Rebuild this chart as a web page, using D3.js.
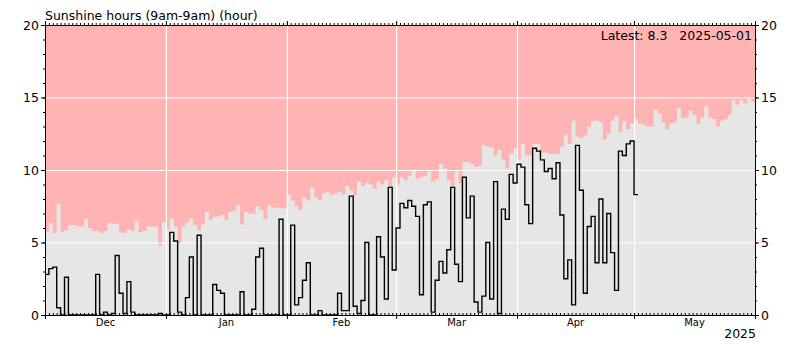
<!DOCTYPE html>
<html>
<head>
<meta charset="utf-8">
<script src="https://cdn.jsdelivr.net/npm/d3@7"></script>
<style>
body { margin: 0; background: #fff; }
text { font-family: "DejaVu Sans", sans-serif; }
</style>
</head>
<body>
<div id="chart"></div>
<script>
// Daily sunshine hours, one value per day from 2024-12-01
const startDate = '2024-12-01';
const endDate = '2025-06-01';
const yTicks = [0, 5, 10, 15, 20];
const titleText = 'Sunshine hours (9am-9am) (hour)';
const latestText = 'Latest: 8.3   2025-05-01';
const yearText = '2025';

const sunshine = [
    2.8, 3.2, 3.3, 0.5, 0, 2.6, 0, 0, 0, 0,
    0, 0, 0, 2.8, 0, 0.2, 0, 0.1, 4.1, 1.5,
    0.1, 2.3, 0.2, 0, 0, 0, 0, 0, 0, 0.1,
    0, 0, 5.7, 5.1, 0.2, 0, 1.2, 4.0, 0, 5.5,
    0, 0, 0, 2.1, 1.7, 1.5, 0, 0, 0, 0,
    1.6, 0, 0, 0.4, 4.0, 4.6, 0, 0, 0, 0,
    6.6, 0, 0, 6.2, 0.7, 1.2, 2.4, 3.6, 0, 0,
    0.3, 0, 0, 0, 0, 1.5, 0.3, 0.3, 8.2, 0.6,
    0.1, 1.0, 5.0, 0, 0, 5.4, 4.0, 1.1, 8.8, 3.1,
    6.0, 7.7, 7.4, 7.9, 7.5, 6.8, 1.4, 7.6, 7.8, 0.2,
    2.4, 3.7, 2.9, 4.5, 8.8, 3.5, 2.3, 9.5, 6.7, 8.2,
    0.9, 0.2, 1.3, 5.0, 1.1, 9.2, 0.1, 7.3, 6.6, 9.7,
    9.1, 10.4, 10.2, 7.6, 6.3, 11.5, 11.3, 10.7, 9.9, 10.1,
    9.4, 10.5, 6.9, 2.5, 3.8, 0.7, 11.7, 8.6, 1.5, 6.1,
    6.8, 3.6, 8.0, 3.6, 7.0, 4.3, 1.7, 11.3, 11.0, 11.8,
    12.0, 8.3
];

// Maximum possible sunshine for each day (grey band)
const maxSunshine = [
    5.75, 6.35, 5.65, 7.65, 5.7, 5.85, 6.2, 6.2, 6.1, 6.1,
    6.6, 6.0, 5.8, 5.8, 5.65, 5.8, 6.35, 6.3, 6.3, 5.7,
    5.65, 5.9, 5.8, 6.5, 5.7, 5.8, 6.1, 6.1, 6.1, 4.8,
    6.4, 5.9, 6.65, 6.1, 4.9, 6.1, 6.4, 6.65, 6.2, 5.85,
    6.3, 7.1, 6.55, 6.8, 6.8, 6.9, 6.55, 7.1, 7.15, 7.6,
    6.25, 7.1, 7.0, 7.0, 7.5, 7.25, 6.6, 7.55, 7.4, 7.4,
    7.4, 7.35, 8.3, 7.9, 7.5, 7.25, 8.1, 7.9, 8.8, 8.1,
    7.9, 8.4, 8.5, 8.3, 8.4, 8.5, 8.3, 8.9, 8.6, 8.25,
    9.2, 8.9, 9.1, 9.0, 8.7, 9.2, 9.0, 9.3, 8.8, 9.5,
    9.0, 9.5, 9.3, 9.6, 10.0, 9.4, 9.5, 9.6, 9.9, 9.2,
    9.35, 10.4, 10.1, 9.3, 8.85, 9.9, 9.1, 10.55, 10.55, 10.4,
    10.2, 10.3, 11.7, 11.6, 11.55, 11.0, 11.4, 10.7, 10.1, 11.15,
    11.5, 10.7, 11.8, 11.0, 11.0, 11.8, 11.8, 11.2, 11.2, 11.1,
    11.1, 11.1, 11.6, 12.4, 11.8, 13.4, 12.3, 12.2, 12.4, 13.0,
    13.4, 13.4, 13.3, 12.1, 12.5, 13.4, 13.7, 12.6, 13.4, 12.8,
    13.2, 13.5, 13.2, 13.1, 13.0, 13.0, 14.2, 13.9, 13.3, 12.8,
    13.2, 13.3, 14.3, 13.6, 13.6, 14.1, 13.8, 13.2, 13.6, 14.4,
    13.6, 13.5, 13.0, 13.4, 13.5, 13.8, 14.8, 14.5, 14.8, 14.6,
    14.9, 14.7
];

const width = 800;
const height = 350;
const margin = { top: 25, right: 45, bottom: 35, left: 45 };

const t0 = new Date(startDate + 'T00:00:00Z');
const t1 = new Date(endDate + 'T00:00:00Z');
const days = d3.utcDay.range(t0, t1);

const svg = d3.select('#chart')
    .append('svg')
    .attr('width', width)
    .attr('height', height);

const x = d3.scaleUtc()
    .domain([t0, t1])
    .range([margin.left, width - margin.right]);

const y = d3.scaleLinear()
    .domain([0, 20])
    .range([height - margin.bottom, margin.top]);

// Pink background
svg.append('rect')
    .attr('x', x.range()[0])
    .attr('y', y(20))
    .attr('width', x.range()[1] - x.range()[0])
    .attr('height', y(0) - y(20))
    .attr('fill', '#ffb3b3');

// Grey max-sunshine band (stepped)
const maxPts = maxSunshine.map((v, i) => ({ date: days[i], v: v }));
maxPts.push({ date: t1, v: maxSunshine[maxSunshine.length - 1] });

const area = d3.area()
    .curve(d3.curveStepAfter)
    .x(d => x(d.date))
    .y0(y(0))
    .y1(d => y(d.v));

svg.append('path')
    .datum(maxPts)
    .attr('d', area)
    .attr('fill', '#e6e6e6');

// White grid lines
const months = d3.utcMonth.range(t0, t1);
svg.append('g')
    .selectAll('line')
    .data(months.slice(1))
    .enter()
    .append('line')
    .attr('x1', d => x(d) + 0.5)
    .attr('x2', d => x(d) + 0.5)
    .attr('y1', y(20))
    .attr('y2', y(0))
    .attr('stroke', '#fff')
    .attr('stroke-width', 1.2);

svg.append('g')
    .selectAll('line')
    .data(yTicks.slice(1, -1))
    .enter()
    .append('line')
    .attr('x1', x.range()[0])
    .attr('x2', x.range()[1])
    .attr('y1', d => y(d) + 0.5)
    .attr('y2', d => y(d) + 0.5)
    .attr('stroke', '#fff')
    .attr('stroke-width', 1.2);

// Black stepped sunshine line
const sunPts = sunshine.map((v, i) => ({ date: days[i], v: v }));
sunPts.push({ date: d3.utcDay.offset(days[sunshine.length - 1], 1), v: sunshine[sunshine.length - 1] });

const line = d3.line()
    .curve(d3.curveStepAfter)
    .x(d => x(d.date))
    .y(d => y(d.v));

svg.append('path')
    .datum(sunPts)
    .attr('d', line)
    .attr('fill', 'none')
    .attr('stroke', '#000')
    .attr('stroke-width', 1.4);

// Axes
const minorY = d3.range(0, 21);

svg.append('g')
    .attr('transform', `translate(${x.range()[0]},0)`)
    .call(d3.axisLeft(y).tickValues(minorY).tickSize(2).tickFormat(''))
    .call(g => g.select('.domain').remove());

svg.append('g')
    .attr('transform', `translate(${x.range()[0]},0)`)
    .call(d3.axisLeft(y).tickValues(yTicks).tickSize(4).tickSizeOuter(0).tickPadding(2))
    .call(g => g.selectAll('text').attr('font-size', 12.5).attr('font-family', 'DejaVu Sans').attr('fill', '#000'));

svg.append('g')
    .attr('transform', `translate(${x.range()[1]},0)`)
    .call(d3.axisRight(y).tickValues(minorY).tickSize(2).tickFormat(''))
    .call(g => g.select('.domain').remove());

svg.append('g')
    .attr('transform', `translate(${x.range()[1]},0)`)
    .call(d3.axisRight(y).tickValues(yTicks).tickSize(4).tickSizeOuter(0).tickPadding(2))
    .call(g => g.selectAll('text').attr('font-size', 12.5).attr('font-family', 'DejaVu Sans').attr('fill', '#000'));

// Bottom axis: daily minor ticks inside, month ticks outside
svg.append('g')
    .attr('transform', `translate(0,${y(0)})`)
    .call(d3.axisTop(x).ticks(d3.utcDay.every(1)).tickSize(2).tickFormat(''))
    .call(g => g.select('.domain').remove());

svg.append('g')
    .attr('transform', `translate(0,${y(0)})`)
    .call(d3.axisBottom(x).tickValues(months.concat([t1])).tickSize(4).tickSizeOuter(0).tickFormat(''));

// Top axis
svg.append('g')
    .attr('transform', `translate(0,${y(20)})`)
    .call(d3.axisTop(x).ticks(d3.utcDay.every(1)).tickSize(2).tickFormat(''))
    .call(g => g.select('.domain').remove());

svg.append('g')
    .attr('transform', `translate(0,${y(20)})`)
    .call(d3.axisTop(x).tickValues(months.concat([t1])).tickSize(4).tickSizeOuter(0).tickFormat(''));

// Month labels centred in each month
svg.append('g')
    .selectAll('text')
    .data(months)
    .enter()
    .append('text')
    .attr('x', d => (x(d) + x(d3.utcMonth.offset(d, 1))) / 2)
    .attr('y', y(0) + 11)
    .attr('text-anchor', 'middle')
    .attr('font-size', 10)
    .text(d => d3.utcFormat('%b')(d));

// Titles
svg.append('text')
    .attr('x', x.range()[0])
    .attr('y', y(20) - 5)
    .attr('font-size', 12.5)
    .text(titleText);

svg.append('text')
    .attr('x', x.range()[1] - 3)
    .attr('y', y(20) + 15)
    .attr('text-anchor', 'end')
    .attr('font-size', 12.5)
    .style('white-space', 'pre')
    .text(latestText);

svg.append('text')
    .attr('x', x.range()[1] + 1)
    .attr('y', y(0) + 23)
    .attr('text-anchor', 'end')
    .attr('font-size', 12.5)
    .text(yearText);
</script>
</body>
</html>
